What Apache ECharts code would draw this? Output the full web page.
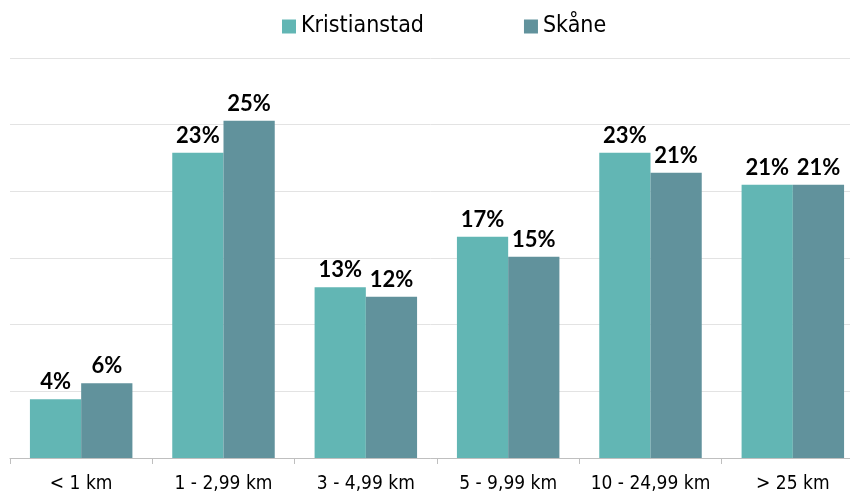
<!DOCTYPE html>
<html>
<head>
<meta charset="utf-8">
<script src="https://cdn.jsdelivr.net/npm/echarts@6/dist/echarts.min.js"></script>
<style>
  html, body { margin: 0; padding: 0; background: #ffffff; }
  #chart { width: 850px; height: 494px; }
</style>
</head>
<body>
<div id="chart"></div>
<script>
// kategorier och andelar (%)
const categories = ['< 1 km', '1 - 2,99 km', '3 - 4,99 km', '5 - 9,99 km', '10 - 24,99 km', '> 25 km'];
const kristianstad = [4.4, 22.9, 12.8, 16.6, 22.9, 20.5];
const skane = [5.6, 25.3, 12.1, 15.1, 21.4, 20.5];
const seriesNames = ['Kristianstad', 'Skåne'];

const chart = echarts.init(document.getElementById('chart'));

const labelStyle = {
  show: true,
  position: 'top',
  distance: 6,
  color: '#000',
  fontFamily: 'Lato, "Open Sans", sans-serif',
  fontWeight: 'bold',
  fontSize: 22,
  formatter: p => Math.round(p.value) + '%'
};

const condensed = '"DejaVu Sans Condensed", "Liberation Sans", sans-serif';

const option = {
  animation: false,
  legend: {
    top: 10,
    left: 277,
    itemWidth: 14,
    itemHeight: 14,
    itemGap: 100,
    icon: 'rect',
    textStyle: { fontFamily: condensed, fontSize: 23, color: '#000' },
    data: seriesNames
  },
  // plotområdet går lite utanför högerkanten, som i originalet
  grid: { left: 10, right: -14, top: 58, bottom: 36, outerBoundsMode: 'none', containLabel: false },
  xAxis: {
    type: 'category',
    data: categories,
    axisLine: { lineStyle: { color: '#bfbfbf' } },
    axisTick: { show: true, length: 6, lineStyle: { color: '#bfbfbf' } },
    axisLabel: {
      interval: 0,
      margin: 17,
      color: '#000',
      fontFamily: condensed,
      fontSize: 19
    }
  },
  yAxis: {
    type: 'value',
    min: 0,
    max: 30,
    interval: 5,
    axisLabel: { show: false },
    axisLine: { show: false },
    axisTick: { show: false },
    splitLine: { lineStyle: { color: '#e3e3e3', width: 1 } }
  },
  series: [
    {
      name: seriesNames[0],
      type: 'bar',
      data: kristianstad,
      barWidth: '36%',
      barGap: '0%',
      itemStyle: { color: '#62b6b4' },
      label: labelStyle
    },
    {
      name: seriesNames[1],
      type: 'bar',
      data: skane,
      barWidth: '36%',
      itemStyle: { color: '#61929c' },
      label: labelStyle
    }
  ]
};

chart.setOption(option);
</script>
</body>
</html>
